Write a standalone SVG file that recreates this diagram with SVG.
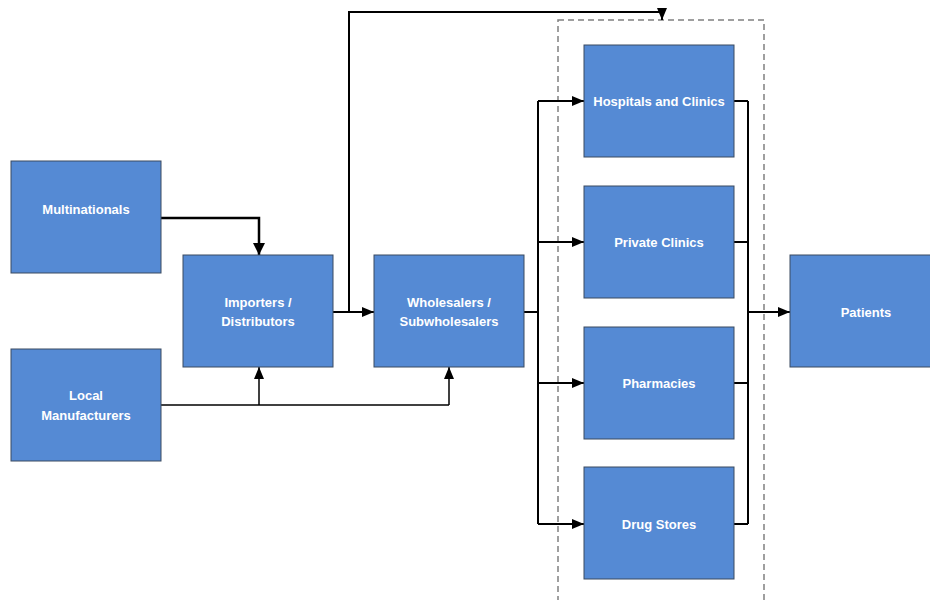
<svg xmlns="http://www.w3.org/2000/svg" width="930" height="600" viewBox="0 0 930 600">
<style>
.box{fill:#558ad4;stroke:#3a4a60;stroke-width:1}
.lbl{font-family:"Liberation Sans",Arial,sans-serif;font-weight:bold;font-size:13px;fill:#fff;text-anchor:middle}
.c{fill:none;stroke:#000;stroke-width:2}
.t{fill:none;stroke:#000;stroke-width:1.5}
</style>
<defs>
<marker id="ah" markerUnits="userSpaceOnUse" markerWidth="13" markerHeight="10" refX="12" refY="5" orient="auto">
<path d="M0,0 L12,5 L0,10 Z" fill="#000"/>
</marker>
<marker id="ahb" markerUnits="userSpaceOnUse" markerWidth="13" markerHeight="12" refX="12" refY="6" orient="auto">
<path d="M0,0 L12,6 L0,12 Z" fill="#000"/>
</marker>
</defs>
<rect x="558" y="20" width="206" height="590" fill="none" stroke="#808080" stroke-width="1.5" stroke-dasharray="6,4"/>
<g id="connectors">
<path class="c" style="stroke-width:2.5" d="M161,218 H259 V255" marker-end="url(#ahb)"/>
<path class="t" d="M161,405 H449"/>
<path class="t" d="M259,405 V367" marker-end="url(#ah)"/>
<path class="t" d="M449,405 V367" marker-end="url(#ah)"/>
<path class="c" d="M333,312 H374" marker-end="url(#ah)"/>
<path class="c" d="M349,312 V12 H662 V20" marker-end="url(#ah)"/>
<path class="c" d="M524,312 H538"/>
<path class="c" d="M538,101 V524"/>
<path class="c" d="M538,101 H584" marker-end="url(#ah)"/>
<path class="c" d="M538,242 H584" marker-end="url(#ah)"/>
<path class="c" d="M538,383 H584" marker-end="url(#ah)"/>
<path class="c" d="M538,524 H584" marker-end="url(#ah)"/>
<path class="c" d="M734,101 H748 M734,242 H748 M734,383 H748 M734,524 H748"/>
<path class="c" d="M748,101 V524"/>
<path class="c" d="M748,312 H790" marker-end="url(#ah)"/>
</g>
<g id="multinationals"><rect class="box" x="11" y="161" width="150" height="112"/><text class="lbl" x="86" y="214">Multinationals</text></g>
<g id="local"><rect class="box" x="11" y="349" width="150" height="112"/><text class="lbl" x="86" y="400">Local</text><text class="lbl" x="86" y="420">Manufacturers</text></g>
<g id="importers"><rect class="box" x="183" y="255" width="150" height="112"/><text class="lbl" x="258" y="307">Importers /</text><text class="lbl" x="258" y="326">Distributors</text></g>
<g id="wholesalers"><rect class="box" x="374" y="255" width="150" height="112"/><text class="lbl" x="449" y="307">Wholesalers /</text><text class="lbl" x="449" y="326">Subwholesalers</text></g>
<g id="hospitals"><rect class="box" x="584" y="45" width="150" height="112"/><text class="lbl" x="659" y="106">Hospitals and Clinics</text></g>
<g id="private"><rect class="box" x="584" y="186" width="150" height="112"/><text class="lbl" x="659" y="247">Private Clinics</text></g>
<g id="pharmacies"><rect class="box" x="584" y="327" width="150" height="112"/><text class="lbl" x="659" y="388">Pharmacies</text></g>
<g id="drugstores"><rect class="box" x="584" y="467" width="150" height="112"/><text class="lbl" x="659" y="529">Drug Stores</text></g>
<g id="patients"><rect class="box" x="790" y="255" width="150" height="112"/><text class="lbl" x="866" y="317">Patients</text></g>
</svg>
